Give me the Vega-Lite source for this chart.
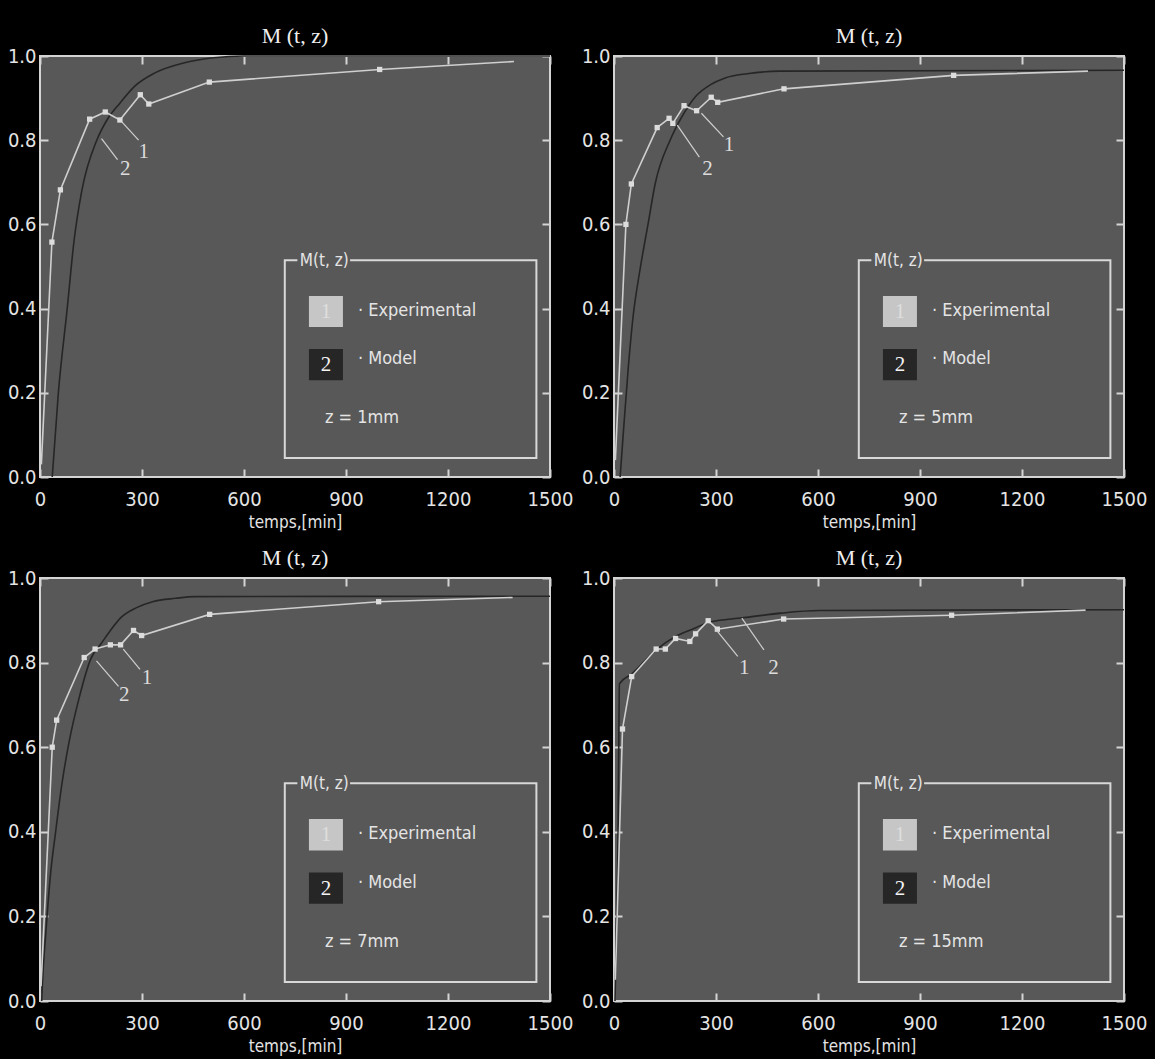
{
  "$schema": "https://vega.github.io/schema/vega-lite/v6.json",
  "background": "black",
  "padding": {"left": 6, "top": 24, "right": 40, "bottom": 30},
  "columns": 2,
  "spacing": {"row": 101, "column": 64},
  "bounds": "flush",
  "datasets": {
    "curves": [
      {"panel": 1, "series": "Experimental", "t": 4, "M": 0.03},
      {"panel": 1, "series": "Experimental", "t": 35, "M": 0.558},
      {"panel": 1, "series": "Experimental", "t": 60, "M": 0.682},
      {"panel": 1, "series": "Experimental", "t": 146, "M": 0.85},
      {"panel": 1, "series": "Experimental", "t": 192, "M": 0.867},
      {"panel": 1, "series": "Experimental", "t": 235, "M": 0.848},
      {"panel": 1, "series": "Experimental", "t": 295, "M": 0.908},
      {"panel": 1, "series": "Experimental", "t": 320, "M": 0.886},
      {"panel": 1, "series": "Experimental", "t": 498, "M": 0.938},
      {"panel": 1, "series": "Experimental", "t": 999, "M": 0.968},
      {"panel": 1, "series": "Experimental", "t": 1394, "M": 0.987},
      {"panel": 1, "series": "Model", "t": 36, "M": 0.0},
      {"panel": 1, "series": "Model", "t": 54, "M": 0.2},
      {"panel": 1, "series": "Model", "t": 80, "M": 0.4},
      {"panel": 1, "series": "Model", "t": 100, "M": 0.56},
      {"panel": 1, "series": "Model", "t": 123, "M": 0.68},
      {"panel": 1, "series": "Model", "t": 167, "M": 0.8},
      {"panel": 1, "series": "Model", "t": 197, "M": 0.848},
      {"panel": 1, "series": "Model", "t": 235, "M": 0.888},
      {"panel": 1, "series": "Model", "t": 278, "M": 0.928},
      {"panel": 1, "series": "Model", "t": 338, "M": 0.96},
      {"panel": 1, "series": "Model", "t": 425, "M": 0.984},
      {"panel": 1, "series": "Model", "t": 511, "M": 0.996},
      {"panel": 1, "series": "Model", "t": 600, "M": 1.0},
      {"panel": 1, "series": "Model", "t": 1500, "M": 1.0},

      {"panel": 2, "series": "Experimental", "t": 4, "M": 0.04},
      {"panel": 2, "series": "Experimental", "t": 35, "M": 0.6},
      {"panel": 2, "series": "Experimental", "t": 51, "M": 0.696},
      {"panel": 2, "series": "Experimental", "t": 127, "M": 0.83},
      {"panel": 2, "series": "Experimental", "t": 162, "M": 0.852},
      {"panel": 2, "series": "Experimental", "t": 173, "M": 0.84},
      {"panel": 2, "series": "Experimental", "t": 206, "M": 0.882},
      {"panel": 2, "series": "Experimental", "t": 243, "M": 0.87},
      {"panel": 2, "series": "Experimental", "t": 286, "M": 0.902},
      {"panel": 2, "series": "Experimental", "t": 305, "M": 0.89},
      {"panel": 2, "series": "Experimental", "t": 500, "M": 0.922},
      {"panel": 2, "series": "Experimental", "t": 999, "M": 0.954},
      {"panel": 2, "series": "Experimental", "t": 1394, "M": 0.964},
      {"panel": 2, "series": "Model", "t": 18, "M": 0.0},
      {"panel": 2, "series": "Model", "t": 27, "M": 0.1},
      {"panel": 2, "series": "Model", "t": 42, "M": 0.26},
      {"panel": 2, "series": "Model", "t": 56, "M": 0.38},
      {"panel": 2, "series": "Model", "t": 76, "M": 0.49},
      {"panel": 2, "series": "Model", "t": 100, "M": 0.6},
      {"panel": 2, "series": "Model", "t": 121, "M": 0.696},
      {"panel": 2, "series": "Model", "t": 165, "M": 0.8},
      {"panel": 2, "series": "Model", "t": 197, "M": 0.852},
      {"panel": 2, "series": "Model", "t": 240, "M": 0.904},
      {"panel": 2, "series": "Model", "t": 284, "M": 0.932},
      {"panel": 2, "series": "Model", "t": 327, "M": 0.948},
      {"panel": 2, "series": "Model", "t": 392, "M": 0.958},
      {"panel": 2, "series": "Model", "t": 489, "M": 0.964},
      {"panel": 2, "series": "Model", "t": 1500, "M": 0.966},

      {"panel": 3, "series": "Experimental", "t": 3, "M": 0.035},
      {"panel": 3, "series": "Experimental", "t": 36, "M": 0.6},
      {"panel": 3, "series": "Experimental", "t": 49, "M": 0.664},
      {"panel": 3, "series": "Experimental", "t": 130, "M": 0.812},
      {"panel": 3, "series": "Experimental", "t": 162, "M": 0.832},
      {"panel": 3, "series": "Experimental", "t": 207, "M": 0.842},
      {"panel": 3, "series": "Experimental", "t": 237, "M": 0.842},
      {"panel": 3, "series": "Experimental", "t": 275, "M": 0.876},
      {"panel": 3, "series": "Experimental", "t": 299, "M": 0.864},
      {"panel": 3, "series": "Experimental", "t": 499, "M": 0.914},
      {"panel": 3, "series": "Experimental", "t": 996, "M": 0.944},
      {"panel": 3, "series": "Experimental", "t": 1390, "M": 0.954},
      {"panel": 3, "series": "Model", "t": 5, "M": 0.0},
      {"panel": 3, "series": "Model", "t": 7, "M": 0.04},
      {"panel": 3, "series": "Model", "t": 17, "M": 0.16},
      {"panel": 3, "series": "Model", "t": 31, "M": 0.3},
      {"panel": 3, "series": "Model", "t": 46, "M": 0.4},
      {"panel": 3, "series": "Model", "t": 65, "M": 0.516},
      {"panel": 3, "series": "Model", "t": 85, "M": 0.61},
      {"panel": 3, "series": "Model", "t": 114, "M": 0.713},
      {"panel": 3, "series": "Model", "t": 150, "M": 0.81},
      {"panel": 3, "series": "Model", "t": 180, "M": 0.845},
      {"panel": 3, "series": "Model", "t": 207, "M": 0.876},
      {"panel": 3, "series": "Model", "t": 240, "M": 0.908},
      {"panel": 3, "series": "Model", "t": 284, "M": 0.93},
      {"panel": 3, "series": "Model", "t": 331, "M": 0.944},
      {"panel": 3, "series": "Model", "t": 399, "M": 0.952},
      {"panel": 3, "series": "Model", "t": 455, "M": 0.956},
      {"panel": 3, "series": "Model", "t": 1500, "M": 0.957},

      {"panel": 4, "series": "Experimental", "t": 4, "M": 0.05},
      {"panel": 4, "series": "Experimental", "t": 25, "M": 0.643},
      {"panel": 4, "series": "Experimental", "t": 52, "M": 0.767},
      {"panel": 4, "series": "Experimental", "t": 124, "M": 0.832},
      {"panel": 4, "series": "Experimental", "t": 151, "M": 0.832},
      {"panel": 4, "series": "Experimental", "t": 181, "M": 0.857},
      {"panel": 4, "series": "Experimental", "t": 223, "M": 0.85},
      {"panel": 4, "series": "Experimental", "t": 240, "M": 0.868},
      {"panel": 4, "series": "Experimental", "t": 277, "M": 0.899},
      {"panel": 4, "series": "Experimental", "t": 304, "M": 0.879},
      {"panel": 4, "series": "Experimental", "t": 499, "M": 0.903},
      {"panel": 4, "series": "Experimental", "t": 993, "M": 0.912},
      {"panel": 4, "series": "Experimental", "t": 1387, "M": 0.924},
      {"panel": 4, "series": "Model", "t": 3, "M": 0.0},
      {"panel": 4, "series": "Model", "t": 8, "M": 0.2},
      {"panel": 4, "series": "Model", "t": 12, "M": 0.4},
      {"panel": 4, "series": "Model", "t": 14, "M": 0.6},
      {"panel": 4, "series": "Model", "t": 16, "M": 0.75},
      {"panel": 4, "series": "Model", "t": 52, "M": 0.773},
      {"panel": 4, "series": "Model", "t": 124, "M": 0.83},
      {"panel": 4, "series": "Model", "t": 181, "M": 0.862},
      {"panel": 4, "series": "Model", "t": 237, "M": 0.881},
      {"panel": 4, "series": "Model", "t": 277, "M": 0.895},
      {"panel": 4, "series": "Model", "t": 345, "M": 0.903},
      {"panel": 4, "series": "Model", "t": 389, "M": 0.907},
      {"panel": 4, "series": "Model", "t": 492, "M": 0.917},
      {"panel": 4, "series": "Model", "t": 604, "M": 0.923},
      {"panel": 4, "series": "Model", "t": 1500, "M": 0.925}
    ],
    "callouts": [
      {"panel": 1, "text": "1", "t": 290, "M": 0.8, "t2": 240, "M2": 0.844, "tl": 305, "Ml": 0.772},
      {"panel": 1, "text": "2", "t": 228, "M": 0.754, "t2": 181, "M2": 0.804, "tl": 251, "Ml": 0.732},
      {"panel": 2, "text": "1", "t": 322, "M": 0.808, "t2": 257, "M2": 0.864, "tl": 338, "Ml": 0.788},
      {"panel": 2, "text": "2", "t": 251, "M": 0.76, "t2": 186, "M2": 0.836, "tl": 275, "Ml": 0.732},
      {"panel": 3, "text": "1", "t": 294, "M": 0.784, "t2": 245, "M2": 0.832, "tl": 315, "Ml": 0.764},
      {"panel": 3, "text": "2", "t": 231, "M": 0.744, "t2": 166, "M2": 0.804, "tl": 248, "Ml": 0.724},
      {"panel": 4, "text": "1", "t": 364, "M": 0.815, "t2": 299, "M2": 0.879, "tl": 383, "Ml": 0.787},
      {"panel": 4, "text": "2", "t": 441, "M": 0.83, "t2": 376, "M2": 0.905, "tl": 469, "Ml": 0.787}
    ],
    "legendbox": [
      {"t": 720, "t2": 1460, "M": 0.045, "M2": 0.515}
    ],
    "legendmask": [
      {"t": 757, "t2": 912, "M": 0.495, "M2": 0.535, "tl": 764, "Ml": 0.513, "text": "M(t, z)"}
    ],
    "legenditems": [
      {"series": "Experimental", "num": "1", "label": "· Experimental", "t": 791, "t2": 891, "M": 0.356, "M2": 0.43, "tc": 841, "Mc": 0.393, "tl": 935, "Ml": 0.394},
      {"series": "Model", "num": "2", "label": "· Model", "t": 791, "t2": 891, "M": 0.23, "M2": 0.304, "tc": 841, "Mc": 0.265, "tl": 935, "Ml": 0.28}
    ],
    "zlabels": [
      {"panel": 1, "text": "z   =  1mm", "t": 838, "M": 0.14},
      {"panel": 2, "text": "z   =  5mm", "t": 838, "M": 0.14},
      {"panel": 3, "text": "z   =  7mm", "t": 838, "M": 0.14},
      {"panel": 4, "text": "z   = 15mm", "t": 838, "M": 0.14}
    ]
  },
  "config": {
    "view": {"fill": "#585858", "stroke": "#d4d4d4", "strokeWidth": 2},
    "axis": {
      "grid": false,
      "domain": false,
      "tickColor": "#d4d4d4",
      "tickWidth": 2,
      "tickSize": -8,
      "labelColor": "#e4e4e4",
      "labelFont": "DejaVu Sans Condensed, Roboto, sans-serif",
      "labelFontSize": 20,
      "labelFlush": false,
      "titleColor": "#e4e4e4",
      "titleFont": "DejaVu Sans Condensed, Roboto, sans-serif",
      "titleFontSize": 17,
      "titleFontWeight": "normal"
    },
    "title": {"font": "Liberation Serif", "fontSize": 22, "fontWeight": "normal", "color": "#eeeeee", "offset": -2}
  },
  "concat": [
    {
      "title": "M (t, z)",
      "width": 510, "height": 421,
      "resolve": {"axis": {"x": "independent", "y": "independent"}},
      "layer": [
        {"data": {"name": "curves"}, "transform": [{"filter": "datum.panel == 1 && datum.series == 'Model'"}],
         "mark": {"type": "line", "color": "#262626", "strokeWidth": 1.6, "interpolate": "monotone"},
         "encoding": {
           "x": {"field": "t", "type": "quantitative", "scale": {"domain": [0, 1500], "nice": false}, "axis": {"orient": "bottom", "values": [0, 300, 600, 900, 1200, 1500], "format": "d", "title": "temps,[min]", "labelPadding": 20, "titlePadding": 5}},
           "y": {"field": "M", "type": "quantitative", "scale": {"domain": [0, 1], "nice": false}, "axis": {"orient": "left", "values": [0, 0.2, 0.4, 0.6, 0.8, 1.0], "format": ".1f", "title": null, "labelPadding": 12}}}},
        {"data": {"name": "curves"}, "transform": [{"filter": "datum.panel == 1 && datum.series == 'Experimental'"}],
         "mark": {"type": "line", "color": "#cfcfcf", "strokeWidth": 1.6},
         "encoding": {
           "x": {"field": "t", "type": "quantitative", "axis": {"orient": "top", "values": [0, 300, 600, 900, 1200, 1500], "labels": false, "title": null}},
           "y": {"field": "M", "type": "quantitative", "axis": {"orient": "right", "values": [0, 0.2, 0.4, 0.6, 0.8, 1.0], "labels": false, "title": null}}}},
        {"data": {"name": "curves"}, "transform": [{"filter": "datum.panel == 1 && datum.series == 'Experimental' && datum.t > 10 && datum.t < 1300"}],
         "mark": {"type": "point", "shape": "square", "filled": true, "size": 28, "color": "#dcdcdc", "opacity": 1},
         "encoding": {"x": {"field": "t", "type": "quantitative", "axis": null}, "y": {"field": "M", "type": "quantitative", "axis": null}}},
        {"data": {"name": "callouts"}, "transform": [{"filter": "datum.panel == 1"}],
         "mark": {"type": "rule", "color": "#cfcfcf", "strokeWidth": 1.2},
         "encoding": {"x": {"field": "t", "type": "quantitative", "axis": null}, "y": {"field": "M", "type": "quantitative", "axis": null}, "x2": {"field": "t2"}, "y2": {"field": "M2"}}},
        {"data": {"name": "callouts"}, "transform": [{"filter": "datum.panel == 1"}],
         "mark": {"type": "text", "font": "Liberation Serif", "fontSize": 21, "color": "#dcdcdc", "align": "center", "baseline": "middle"},
         "encoding": {"x": {"field": "tl", "type": "quantitative", "axis": null}, "y": {"field": "Ml", "type": "quantitative", "axis": null}, "text": {"field": "text"}}},
        {"data": {"name": "legendbox"},
         "mark": {"type": "rect", "fill": null, "fillOpacity": 0, "stroke": "#d8d8d8", "strokeWidth": 2},
         "encoding": {"x": {"field": "t", "type": "quantitative", "axis": null}, "x2": {"field": "t2"}, "y": {"field": "M", "type": "quantitative", "axis": null}, "y2": {"field": "M2"}}},
        {"data": {"name": "legendmask"},
         "mark": {"type": "rect", "fill": "#585858"},
         "encoding": {"x": {"field": "t", "type": "quantitative", "axis": null}, "x2": {"field": "t2"}, "y": {"field": "M", "type": "quantitative", "axis": null}, "y2": {"field": "M2"}}},
        {"data": {"name": "legendmask"},
         "mark": {"type": "text", "font": "DejaVu Sans Condensed, Roboto, sans-serif", "fontSize": 17, "color": "#e4e4e4", "align": "left", "baseline": "middle"},
         "encoding": {"x": {"field": "tl", "type": "quantitative", "axis": null}, "y": {"field": "Ml", "type": "quantitative", "axis": null}, "text": {"field": "text"}}},
        {"data": {"name": "legenditems"},
         "mark": {"type": "rect"},
         "encoding": {"x": {"field": "t", "type": "quantitative", "axis": null}, "x2": {"field": "t2"}, "y": {"field": "M", "type": "quantitative", "axis": null}, "y2": {"field": "M2"},
           "color": {"condition": {"test": "datum.series == 'Model'", "value": "#262626"}, "value": "#c6c6c6"}}},
        {"data": {"name": "legenditems"},
         "mark": {"type": "text", "font": "Liberation Serif", "fontSize": 21, "align": "center", "baseline": "middle"},
         "encoding": {"x": {"field": "tc", "type": "quantitative", "axis": null}, "y": {"field": "Mc", "type": "quantitative", "axis": null}, "text": {"field": "num"},
           "color": {"condition": {"test": "datum.series == 'Model'", "value": "#f4f4f4"}, "value": "#dedede"}}},
        {"data": {"name": "legenditems"},
         "mark": {"type": "text", "font": "DejaVu Sans Condensed, Roboto, sans-serif", "fontSize": 18, "color": "#e4e4e4", "align": "left", "baseline": "middle"},
         "encoding": {"x": {"field": "tl", "type": "quantitative", "axis": null}, "y": {"field": "Ml", "type": "quantitative", "axis": null}, "text": {"field": "label"}}},
        {"data": {"name": "zlabels"}, "transform": [{"filter": "datum.panel == 1"}],
         "mark": {"type": "text", "font": "DejaVu Sans Condensed, Roboto, sans-serif", "fontSize": 18, "color": "#e4e4e4", "align": "left", "baseline": "middle"},
         "encoding": {"x": {"field": "t", "type": "quantitative", "axis": null}, "y": {"field": "M", "type": "quantitative", "axis": null}, "text": {"field": "text"}}}
      ]
    },
    {
      "title": "M (t, z)",
      "width": 510, "height": 421,
      "resolve": {"axis": {"x": "independent", "y": "independent"}},
      "layer": [
        {"data": {"name": "curves"}, "transform": [{"filter": "datum.panel == 2 && datum.series == 'Model'"}],
         "mark": {"type": "line", "color": "#262626", "strokeWidth": 1.6, "interpolate": "monotone"},
         "encoding": {
           "x": {"field": "t", "type": "quantitative", "scale": {"domain": [0, 1500], "nice": false}, "axis": {"orient": "bottom", "values": [0, 300, 600, 900, 1200, 1500], "format": "d", "title": "temps,[min]", "labelPadding": 20, "titlePadding": 5}},
           "y": {"field": "M", "type": "quantitative", "scale": {"domain": [0, 1], "nice": false}, "axis": {"orient": "left", "values": [0, 0.2, 0.4, 0.6, 0.8, 1.0], "format": ".1f", "title": null, "labelPadding": 12}}}},
        {"data": {"name": "curves"}, "transform": [{"filter": "datum.panel == 2 && datum.series == 'Experimental'"}],
         "mark": {"type": "line", "color": "#cfcfcf", "strokeWidth": 1.6},
         "encoding": {
           "x": {"field": "t", "type": "quantitative", "axis": {"orient": "top", "values": [0, 300, 600, 900, 1200, 1500], "labels": false, "title": null}},
           "y": {"field": "M", "type": "quantitative", "axis": {"orient": "right", "values": [0, 0.2, 0.4, 0.6, 0.8, 1.0], "labels": false, "title": null}}}},
        {"data": {"name": "curves"}, "transform": [{"filter": "datum.panel == 2 && datum.series == 'Experimental' && datum.t > 10 && datum.t < 1300"}],
         "mark": {"type": "point", "shape": "square", "filled": true, "size": 28, "color": "#dcdcdc", "opacity": 1},
         "encoding": {"x": {"field": "t", "type": "quantitative", "axis": null}, "y": {"field": "M", "type": "quantitative", "axis": null}}},
        {"data": {"name": "callouts"}, "transform": [{"filter": "datum.panel == 2"}],
         "mark": {"type": "rule", "color": "#cfcfcf", "strokeWidth": 1.2},
         "encoding": {"x": {"field": "t", "type": "quantitative", "axis": null}, "y": {"field": "M", "type": "quantitative", "axis": null}, "x2": {"field": "t2"}, "y2": {"field": "M2"}}},
        {"data": {"name": "callouts"}, "transform": [{"filter": "datum.panel == 2"}],
         "mark": {"type": "text", "font": "Liberation Serif", "fontSize": 21, "color": "#dcdcdc", "align": "center", "baseline": "middle"},
         "encoding": {"x": {"field": "tl", "type": "quantitative", "axis": null}, "y": {"field": "Ml", "type": "quantitative", "axis": null}, "text": {"field": "text"}}},
        {"data": {"name": "legendbox"},
         "mark": {"type": "rect", "fill": null, "fillOpacity": 0, "stroke": "#d8d8d8", "strokeWidth": 2},
         "encoding": {"x": {"field": "t", "type": "quantitative", "axis": null}, "x2": {"field": "t2"}, "y": {"field": "M", "type": "quantitative", "axis": null}, "y2": {"field": "M2"}}},
        {"data": {"name": "legendmask"},
         "mark": {"type": "rect", "fill": "#585858"},
         "encoding": {"x": {"field": "t", "type": "quantitative", "axis": null}, "x2": {"field": "t2"}, "y": {"field": "M", "type": "quantitative", "axis": null}, "y2": {"field": "M2"}}},
        {"data": {"name": "legendmask"},
         "mark": {"type": "text", "font": "DejaVu Sans Condensed, Roboto, sans-serif", "fontSize": 17, "color": "#e4e4e4", "align": "left", "baseline": "middle"},
         "encoding": {"x": {"field": "tl", "type": "quantitative", "axis": null}, "y": {"field": "Ml", "type": "quantitative", "axis": null}, "text": {"field": "text"}}},
        {"data": {"name": "legenditems"},
         "mark": {"type": "rect"},
         "encoding": {"x": {"field": "t", "type": "quantitative", "axis": null}, "x2": {"field": "t2"}, "y": {"field": "M", "type": "quantitative", "axis": null}, "y2": {"field": "M2"},
           "color": {"condition": {"test": "datum.series == 'Model'", "value": "#262626"}, "value": "#c6c6c6"}}},
        {"data": {"name": "legenditems"},
         "mark": {"type": "text", "font": "Liberation Serif", "fontSize": 21, "align": "center", "baseline": "middle"},
         "encoding": {"x": {"field": "tc", "type": "quantitative", "axis": null}, "y": {"field": "Mc", "type": "quantitative", "axis": null}, "text": {"field": "num"},
           "color": {"condition": {"test": "datum.series == 'Model'", "value": "#f4f4f4"}, "value": "#dedede"}}},
        {"data": {"name": "legenditems"},
         "mark": {"type": "text", "font": "DejaVu Sans Condensed, Roboto, sans-serif", "fontSize": 18, "color": "#e4e4e4", "align": "left", "baseline": "middle"},
         "encoding": {"x": {"field": "tl", "type": "quantitative", "axis": null}, "y": {"field": "Ml", "type": "quantitative", "axis": null}, "text": {"field": "label"}}},
        {"data": {"name": "zlabels"}, "transform": [{"filter": "datum.panel == 2"}],
         "mark": {"type": "text", "font": "DejaVu Sans Condensed, Roboto, sans-serif", "fontSize": 18, "color": "#e4e4e4", "align": "left", "baseline": "middle"},
         "encoding": {"x": {"field": "t", "type": "quantitative", "axis": null}, "y": {"field": "M", "type": "quantitative", "axis": null}, "text": {"field": "text"}}}
      ]
    },
    {
      "title": "M (t, z)",
      "width": 510, "height": 423,
      "resolve": {"axis": {"x": "independent", "y": "independent"}},
      "layer": [
        {"data": {"name": "curves"}, "transform": [{"filter": "datum.panel == 3 && datum.series == 'Model'"}],
         "mark": {"type": "line", "color": "#262626", "strokeWidth": 1.6, "interpolate": "monotone"},
         "encoding": {
           "x": {"field": "t", "type": "quantitative", "scale": {"domain": [0, 1500], "nice": false}, "axis": {"orient": "bottom", "values": [0, 300, 600, 900, 1200, 1500], "format": "d", "title": "temps,[min]", "labelPadding": 20, "titlePadding": 5}},
           "y": {"field": "M", "type": "quantitative", "scale": {"domain": [0, 1], "nice": false}, "axis": {"orient": "left", "values": [0, 0.2, 0.4, 0.6, 0.8, 1.0], "format": ".1f", "title": null, "labelPadding": 12}}}},
        {"data": {"name": "curves"}, "transform": [{"filter": "datum.panel == 3 && datum.series == 'Experimental'"}],
         "mark": {"type": "line", "color": "#cfcfcf", "strokeWidth": 1.6},
         "encoding": {
           "x": {"field": "t", "type": "quantitative", "axis": {"orient": "top", "values": [0, 300, 600, 900, 1200, 1500], "labels": false, "title": null}},
           "y": {"field": "M", "type": "quantitative", "axis": {"orient": "right", "values": [0, 0.2, 0.4, 0.6, 0.8, 1.0], "labels": false, "title": null}}}},
        {"data": {"name": "curves"}, "transform": [{"filter": "datum.panel == 3 && datum.series == 'Experimental' && datum.t > 10 && datum.t < 1300"}],
         "mark": {"type": "point", "shape": "square", "filled": true, "size": 28, "color": "#dcdcdc", "opacity": 1},
         "encoding": {"x": {"field": "t", "type": "quantitative", "axis": null}, "y": {"field": "M", "type": "quantitative", "axis": null}}},
        {"data": {"name": "callouts"}, "transform": [{"filter": "datum.panel == 3"}],
         "mark": {"type": "rule", "color": "#cfcfcf", "strokeWidth": 1.2},
         "encoding": {"x": {"field": "t", "type": "quantitative", "axis": null}, "y": {"field": "M", "type": "quantitative", "axis": null}, "x2": {"field": "t2"}, "y2": {"field": "M2"}}},
        {"data": {"name": "callouts"}, "transform": [{"filter": "datum.panel == 3"}],
         "mark": {"type": "text", "font": "Liberation Serif", "fontSize": 21, "color": "#dcdcdc", "align": "center", "baseline": "middle"},
         "encoding": {"x": {"field": "tl", "type": "quantitative", "axis": null}, "y": {"field": "Ml", "type": "quantitative", "axis": null}, "text": {"field": "text"}}},
        {"data": {"name": "legendbox"},
         "mark": {"type": "rect", "fill": null, "fillOpacity": 0, "stroke": "#d8d8d8", "strokeWidth": 2},
         "encoding": {"x": {"field": "t", "type": "quantitative", "axis": null}, "x2": {"field": "t2"}, "y": {"field": "M", "type": "quantitative", "axis": null}, "y2": {"field": "M2"}}},
        {"data": {"name": "legendmask"},
         "mark": {"type": "rect", "fill": "#585858"},
         "encoding": {"x": {"field": "t", "type": "quantitative", "axis": null}, "x2": {"field": "t2"}, "y": {"field": "M", "type": "quantitative", "axis": null}, "y2": {"field": "M2"}}},
        {"data": {"name": "legendmask"},
         "mark": {"type": "text", "font": "DejaVu Sans Condensed, Roboto, sans-serif", "fontSize": 17, "color": "#e4e4e4", "align": "left", "baseline": "middle"},
         "encoding": {"x": {"field": "tl", "type": "quantitative", "axis": null}, "y": {"field": "Ml", "type": "quantitative", "axis": null}, "text": {"field": "text"}}},
        {"data": {"name": "legenditems"},
         "mark": {"type": "rect"},
         "encoding": {"x": {"field": "t", "type": "quantitative", "axis": null}, "x2": {"field": "t2"}, "y": {"field": "M", "type": "quantitative", "axis": null}, "y2": {"field": "M2"},
           "color": {"condition": {"test": "datum.series == 'Model'", "value": "#262626"}, "value": "#c6c6c6"}}},
        {"data": {"name": "legenditems"},
         "mark": {"type": "text", "font": "Liberation Serif", "fontSize": 21, "align": "center", "baseline": "middle"},
         "encoding": {"x": {"field": "tc", "type": "quantitative", "axis": null}, "y": {"field": "Mc", "type": "quantitative", "axis": null}, "text": {"field": "num"},
           "color": {"condition": {"test": "datum.series == 'Model'", "value": "#f4f4f4"}, "value": "#dedede"}}},
        {"data": {"name": "legenditems"},
         "mark": {"type": "text", "font": "DejaVu Sans Condensed, Roboto, sans-serif", "fontSize": 18, "color": "#e4e4e4", "align": "left", "baseline": "middle"},
         "encoding": {"x": {"field": "tl", "type": "quantitative", "axis": null}, "y": {"field": "Ml", "type": "quantitative", "axis": null}, "text": {"field": "label"}}},
        {"data": {"name": "zlabels"}, "transform": [{"filter": "datum.panel == 3"}],
         "mark": {"type": "text", "font": "DejaVu Sans Condensed, Roboto, sans-serif", "fontSize": 18, "color": "#e4e4e4", "align": "left", "baseline": "middle"},
         "encoding": {"x": {"field": "t", "type": "quantitative", "axis": null}, "y": {"field": "M", "type": "quantitative", "axis": null}, "text": {"field": "text"}}}
      ]
    },
    {
      "title": "M (t, z)",
      "width": 510, "height": 423,
      "resolve": {"axis": {"x": "independent", "y": "independent"}},
      "layer": [
        {"data": {"name": "curves"}, "transform": [{"filter": "datum.panel == 4 && datum.series == 'Model'"}],
         "mark": {"type": "line", "color": "#262626", "strokeWidth": 1.6, "interpolate": "monotone"},
         "encoding": {
           "x": {"field": "t", "type": "quantitative", "scale": {"domain": [0, 1500], "nice": false}, "axis": {"orient": "bottom", "values": [0, 300, 600, 900, 1200, 1500], "format": "d", "title": "temps,[min]", "labelPadding": 20, "titlePadding": 5}},
           "y": {"field": "M", "type": "quantitative", "scale": {"domain": [0, 1], "nice": false}, "axis": {"orient": "left", "values": [0, 0.2, 0.4, 0.6, 0.8, 1.0], "format": ".1f", "title": null, "labelPadding": 12}}}},
        {"data": {"name": "curves"}, "transform": [{"filter": "datum.panel == 4 && datum.series == 'Experimental'"}],
         "mark": {"type": "line", "color": "#cfcfcf", "strokeWidth": 1.6},
         "encoding": {
           "x": {"field": "t", "type": "quantitative", "axis": {"orient": "top", "values": [0, 300, 600, 900, 1200, 1500], "labels": false, "title": null}},
           "y": {"field": "M", "type": "quantitative", "axis": {"orient": "right", "values": [0, 0.2, 0.4, 0.6, 0.8, 1.0], "labels": false, "title": null}}}},
        {"data": {"name": "curves"}, "transform": [{"filter": "datum.panel == 4 && datum.series == 'Experimental' && datum.t > 10 && datum.t < 1300"}],
         "mark": {"type": "point", "shape": "square", "filled": true, "size": 28, "color": "#dcdcdc", "opacity": 1},
         "encoding": {"x": {"field": "t", "type": "quantitative", "axis": null}, "y": {"field": "M", "type": "quantitative", "axis": null}}},
        {"data": {"name": "callouts"}, "transform": [{"filter": "datum.panel == 4"}],
         "mark": {"type": "rule", "color": "#cfcfcf", "strokeWidth": 1.2},
         "encoding": {"x": {"field": "t", "type": "quantitative", "axis": null}, "y": {"field": "M", "type": "quantitative", "axis": null}, "x2": {"field": "t2"}, "y2": {"field": "M2"}}},
        {"data": {"name": "callouts"}, "transform": [{"filter": "datum.panel == 4"}],
         "mark": {"type": "text", "font": "Liberation Serif", "fontSize": 21, "color": "#dcdcdc", "align": "center", "baseline": "middle"},
         "encoding": {"x": {"field": "tl", "type": "quantitative", "axis": null}, "y": {"field": "Ml", "type": "quantitative", "axis": null}, "text": {"field": "text"}}},
        {"data": {"name": "legendbox"},
         "mark": {"type": "rect", "fill": null, "fillOpacity": 0, "stroke": "#d8d8d8", "strokeWidth": 2},
         "encoding": {"x": {"field": "t", "type": "quantitative", "axis": null}, "x2": {"field": "t2"}, "y": {"field": "M", "type": "quantitative", "axis": null}, "y2": {"field": "M2"}}},
        {"data": {"name": "legendmask"},
         "mark": {"type": "rect", "fill": "#585858"},
         "encoding": {"x": {"field": "t", "type": "quantitative", "axis": null}, "x2": {"field": "t2"}, "y": {"field": "M", "type": "quantitative", "axis": null}, "y2": {"field": "M2"}}},
        {"data": {"name": "legendmask"},
         "mark": {"type": "text", "font": "DejaVu Sans Condensed, Roboto, sans-serif", "fontSize": 17, "color": "#e4e4e4", "align": "left", "baseline": "middle"},
         "encoding": {"x": {"field": "tl", "type": "quantitative", "axis": null}, "y": {"field": "Ml", "type": "quantitative", "axis": null}, "text": {"field": "text"}}},
        {"data": {"name": "legenditems"},
         "mark": {"type": "rect"},
         "encoding": {"x": {"field": "t", "type": "quantitative", "axis": null}, "x2": {"field": "t2"}, "y": {"field": "M", "type": "quantitative", "axis": null}, "y2": {"field": "M2"},
           "color": {"condition": {"test": "datum.series == 'Model'", "value": "#262626"}, "value": "#c6c6c6"}}},
        {"data": {"name": "legenditems"},
         "mark": {"type": "text", "font": "Liberation Serif", "fontSize": 21, "align": "center", "baseline": "middle"},
         "encoding": {"x": {"field": "tc", "type": "quantitative", "axis": null}, "y": {"field": "Mc", "type": "quantitative", "axis": null}, "text": {"field": "num"},
           "color": {"condition": {"test": "datum.series == 'Model'", "value": "#f4f4f4"}, "value": "#dedede"}}},
        {"data": {"name": "legenditems"},
         "mark": {"type": "text", "font": "DejaVu Sans Condensed, Roboto, sans-serif", "fontSize": 18, "color": "#e4e4e4", "align": "left", "baseline": "middle"},
         "encoding": {"x": {"field": "tl", "type": "quantitative", "axis": null}, "y": {"field": "Ml", "type": "quantitative", "axis": null}, "text": {"field": "label"}}},
        {"data": {"name": "zlabels"}, "transform": [{"filter": "datum.panel == 4"}],
         "mark": {"type": "text", "font": "DejaVu Sans Condensed, Roboto, sans-serif", "fontSize": 18, "color": "#e4e4e4", "align": "left", "baseline": "middle"},
         "encoding": {"x": {"field": "t", "type": "quantitative", "axis": null}, "y": {"field": "M", "type": "quantitative", "axis": null}, "text": {"field": "text"}}}
      ]
    }
  ]
}
